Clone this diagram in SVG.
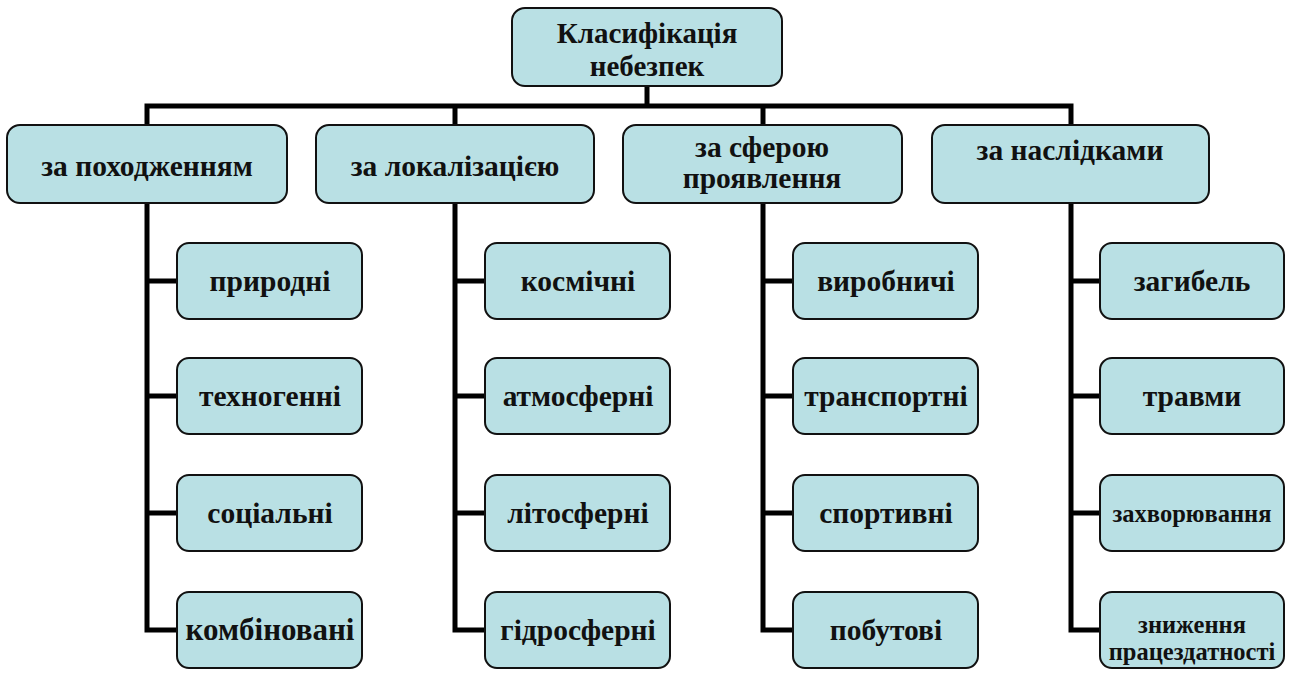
<svg xmlns="http://www.w3.org/2000/svg" width="1292" height="680" viewBox="0 0 1292 680">
<style>
.box{fill:#b9e0e4;stroke:#111;stroke-width:2}
text{font-family:'Liberation Serif','DejaVu Serif',serif;font-weight:700;font-size:29.5px;fill:#111;text-anchor:middle}
.s{font-size:24.5px}
.big{font-size:29px}
.c{fill:none;stroke:#000;stroke-width:5;stroke-linejoin:miter;stroke-linecap:butt}
</style>
<rect width="1292" height="680" fill="#fff"/>
<g id="connectors">
<path class="c" d="M147,125 V106 H1071 V125"/>
<path class="c" d="M647,86 V106"/>
<path class="c" d="M455,106 V125"/>
<path class="c" d="M763,106 V125"/>
<path class="c" d="M147,203 V630 H177 M147,281 H177 M147,396 H177 M147,513 H177"/>
<path class="c" d="M455,203 V630 H485 M455,281 H485 M455,396 H485 M455,513 H485"/>
<path class="c" d="M763,203 V630 H793 M763,281 H793 M763,396 H793 M763,513 H793"/>
<path class="c" d="M1071,203 V630 H1100 M1071,281 H1100 M1071,396 H1100 M1071,513 H1100"/>
</g>
<g id="root"><rect class="box" x="512" y="8" width="270" height="78" rx="13"/><text class="big" x="647" y="43">Класифікація</text><text class="big" x="647" y="76">небезпек</text></g>
<g id="cat1"><rect class="box" x="7" y="125" width="280" height="78" rx="13"/><text x="147" y="176">за походженням</text></g>
<g id="cat2"><rect class="box" x="316" y="125" width="278" height="78" rx="13"/><text x="455" y="176">за локалізацією</text></g>
<g id="cat3"><rect class="box" x="623" y="125" width="279" height="78" rx="13"/><text x="762" y="157">за сферою</text><text x="762" y="188">проявлення</text></g>
<g id="cat4"><rect class="box" x="932" y="125" width="277" height="78" rx="13"/><text x="1070" y="160">за наслідками</text></g>
<g id="n1a"><rect class="box" x="177" y="243" width="185" height="76" rx="12"/><text x="270" y="291">природні</text></g>
<g id="n1b"><rect class="box" x="177" y="358" width="185" height="76" rx="12"/><text x="270" y="406">техногенні</text></g>
<g id="n1c"><rect class="box" x="177" y="475" width="185" height="76" rx="12"/><text x="270" y="523">соціальні</text></g>
<g id="n1d"><rect class="box" x="177" y="592" width="185" height="76" rx="12"/><text x="270" y="640" style="font-size:31px">комбіновані</text></g>
<g id="n2a"><rect class="box" x="485" y="243" width="185" height="76" rx="12"/><text x="578" y="291">космічні</text></g>
<g id="n2b"><rect class="box" x="485" y="358" width="185" height="76" rx="12"/><text x="578" y="406">атмосферні</text></g>
<g id="n2c"><rect class="box" x="485" y="475" width="185" height="76" rx="12"/><text x="578" y="523">літосферні</text></g>
<g id="n2d"><rect class="box" x="485" y="592" width="185" height="76" rx="12"/><text x="578" y="640">гідросферні</text></g>
<g id="n3a"><rect class="box" x="793" y="243" width="185" height="76" rx="12"/><text x="886" y="291">виробничі</text></g>
<g id="n3b"><rect class="box" x="793" y="358" width="185" height="76" rx="12"/><text x="886" y="406">транспортні</text></g>
<g id="n3c"><rect class="box" x="793" y="475" width="185" height="76" rx="12"/><text x="886" y="523">спортивні</text></g>
<g id="n3d"><rect class="box" x="793" y="592" width="185" height="76" rx="12"/><text x="886" y="640">побутові</text></g>
<g id="n4a"><rect class="box" x="1100" y="243" width="184" height="76" rx="12"/><text x="1192" y="291">загибель</text></g>
<g id="n4b"><rect class="box" x="1100" y="358" width="184" height="76" rx="12"/><text x="1192" y="406">травми</text></g>
<g id="n4c"><rect class="box" x="1100" y="475" width="184" height="76" rx="12"/><text class="s" x="1192" y="522">захворювання</text></g>
<g id="n4d"><rect class="box" x="1100" y="592" width="184" height="76" rx="12"/><text class="s" x="1192" y="633">зниження</text><text class="s" x="1192" y="660">працездатності</text></g>
</svg>
